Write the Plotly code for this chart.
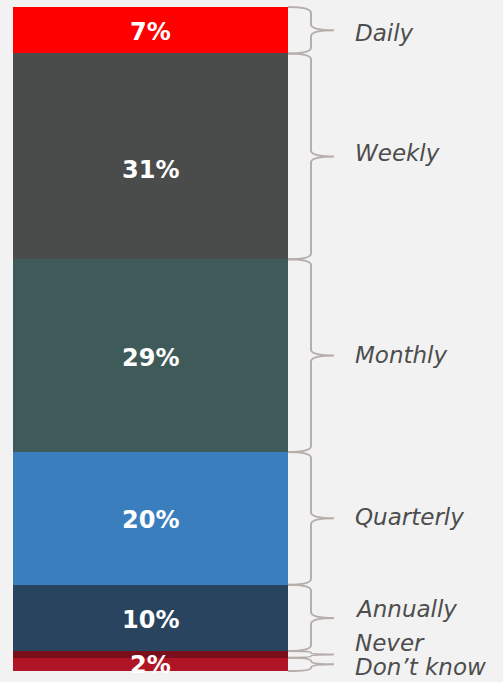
import plotly.graph_objects as go

# data (top to bottom)
categories = ["Daily", "Weekly", "Monthly", "Quarterly", "Annually", "Never", "Don\u2019t know"]
values = [7, 31, 29, 20, 10, 1, 2]
bar_labels = ["7%", "31%", "29%", "20%", "10%", "", "2%"]
colors = ["#ff0000", "#4a4c4b", "#3e5b5a", "#3a7ebe", "#29445e", "#7a0f1c", "#b01525"]
label_shift = [-3, 3, 1, 1, 9, 11, -3]  # nudge side labels so they don't collide
pct_shift = [-2, -14, -2, -2, -2, 0, -1]

FONT = "DejaVu Sans, Century Gothic, sans-serif"

fig = go.Figure()

# plotly stacks from the bottom, so add in reverse
for cat, val, col in reversed(list(zip(categories, values, colors))):
    fig.add_trace(go.Bar(x=[150.5], y=[val], width=275, name=cat,
                         marker=dict(color=col, line=dict(width=0)),
                         showlegend=False, hoverinfo="skip"))

# segment bounds, top down
total = sum(values)
tops, bots = [], []
cur = total
for v in values:
    tops.append(cur)
    bots.append(cur - v)
    cur -= v

unit = 664 / 100.0  # px per percent
annotations = []
shapes = []
for i, cat in enumerate(categories):
    t, b = tops[i], bots[i]
    m = (t + b) / 2
    if bar_labels[i]:
        annotations.append(dict(x=150.5, y=m, xref="x", yref="y", text="<b>%s</b>" % bar_labels[i],
                                showarrow=False, yshift=pct_shift[i],
                                font=dict(color="white", size=24, family=FONT)))
    # curly brace on the right of each segment
    r = min(6 / unit, (t - b) / 4)
    path = ("M 288,{t} Q 311,{t} 311,{t1} L 311,{m1} Q 311,{m} 334,{m} "
            "M 288,{b} Q 311,{b} 311,{b1} L 311,{m2} Q 311,{m} 334,{m}").format(
        t=t, t1=t - r, m1=m + r, m=m, b=b, b1=b + r, m2=m - r)
    shapes.append(dict(type="path", path=path, xref="x", yref="y",
                       line=dict(color="#b5aeab", width=2)))
    annotations.append(dict(x=353, y=m, xref="x", yref="y", text="<i>%s</i>" % cat,
                            xanchor="left", showarrow=False, yshift=label_shift[i],
                            font=dict(color="#4d4d4d", size=23, family=FONT)))

fig.update_layout(
    width=503, height=682,
    margin=dict(l=0, r=0, t=0, b=0),
    barmode="stack",
    paper_bgcolor="#f2f2f2",
    plot_bgcolor="#f2f2f2",
    xaxis=dict(range=[0, 503], visible=False, fixedrange=True),
    yaxis=dict(range=[-11 / unit, 100 + 7 / unit], visible=False, fixedrange=True),
    annotations=annotations,
    shapes=shapes,
)

fig.write_html("out.html", config={"displayModeBar": False},
               post_script="document.body.style.margin='0';document.body.style.background='#f2f2f2';")
